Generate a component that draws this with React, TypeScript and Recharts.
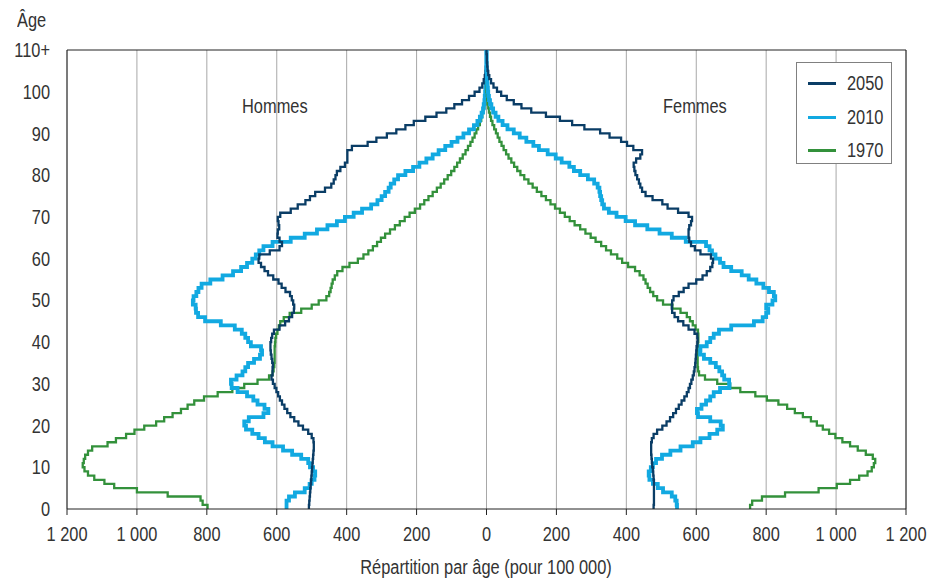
import React from 'react';
import { LineChart, Line, XAxis, YAxis, CartesianGrid, ReferenceLine } from 'recharts';

// age 0..110 (last one is "110+")
const ages: number[] = Array.from({ length: 111 }, (_, i) => i);

// per 100 000, men (drawn to the left) and women (to the right)
const men2050 = [
  508, 507, 506, 505, 504, 503, 502, 501, 500, 499,
  498, 497, 496, 495, 494, 494, 495, 500, 510, 525,
  538, 550, 561, 570, 578, 585, 591, 596, 601, 606,
  611, 615, 612, 612, 611, 613, 615, 617, 618, 618,
  616, 613, 608, 592, 576, 565, 556, 551, 550, 553,
  557, 562, 575, 586, 595, 610, 625, 635, 645, 652,
  650, 620, 592, 585, 592, 598, 597, 593, 595, 597,
  590, 560, 540, 518, 505, 490, 462, 444, 437, 432,
  428, 418, 405, 398, 398, 398, 385, 340, 315, 285,
  258, 232, 208, 175, 143, 115, 92, 70, 50, 34,
  20, 12, 8, 5, 3, 2, 1, 1, 0, 0, 0,
];
const women2050 = [
  478, 479, 479, 479, 479, 479, 479, 478, 477, 476,
  474, 473, 472, 471, 471, 471, 473, 478, 488, 503,
  515, 525, 534, 542, 550, 558, 566, 573, 578, 582,
  586, 590, 593, 595, 597, 598, 599, 600, 601, 603,
  604, 603, 595, 578, 563, 548, 538, 531, 530, 531,
  535, 550, 564, 578, 600, 618, 630, 640, 646, 648,
  642, 612, 596, 585, 580, 578, 578, 580, 585, 588,
  578, 548, 518, 503, 475, 455, 445, 440, 436, 431,
  426, 423, 421, 428, 440, 445, 420, 402, 385, 352,
  325, 280, 245, 210, 170, 128, 100, 78, 58, 42,
  30, 20, 13, 8, 5, 3, 2, 1, 1, 0, 0,
];
const men2010 = [
  572, 572, 565, 548, 520, 506, 500, 492, 490, 496,
  505, 510, 530, 556, 582, 612, 634, 652, 670, 688,
  693, 680, 638, 624, 635, 655, 667, 685, 712, 729,
  731, 715, 698, 690, 682, 665, 648, 642, 645, 674,
  682, 690, 700, 720, 760, 805, 825, 831, 832, 840,
  838, 830, 824, 815, 790, 755, 725, 702, 685, 670,
  660, 650, 638, 612, 560, 520, 485, 455, 428, 405,
  380, 356, 330, 312, 300, 290, 280, 274, 264, 253,
  232, 210, 192, 172, 154, 137, 118, 100, 83, 66,
  50, 36, 26, 19, 14, 10, 8, 6, 5, 4,
  3, 2, 1, 1, 0, 0, 0, 0, 0, 0, 0,
];
const women2010 = [
  545, 544, 540, 530, 505, 490, 476, 466, 464, 470,
  476, 485, 502, 526, 555, 590, 612, 638, 660, 676,
  670, 640, 605, 602, 615, 628, 640, 650, 668, 695,
  694, 680, 674, 666, 656, 640, 622, 611, 612, 630,
  640, 650, 665, 700, 765, 790, 800, 806, 800, 818,
  826, 822, 808, 792, 772, 750, 730, 700, 678, 668,
  655, 645, 638, 628, 570, 530, 495, 460, 425, 398,
  372, 350, 336, 331, 328, 325, 323, 318, 308, 290,
  268, 250, 237, 215, 198, 175, 150, 134, 114, 95,
  78, 60, 46, 34, 26, 19, 14, 10, 7, 5,
  4, 3, 2, 1, 1, 0, 0, 0, 0, 0, 0,
];
const men1970 = [
  798, 812, 818, 912, 1000, 1065, 1093, 1122, 1140, 1150,
  1155, 1152, 1148, 1140, 1128, 1084, 1060, 1031, 1007, 979,
  945, 922, 898, 874, 855, 836, 808, 769, 727, 693,
  655, 622, 612, 609, 607, 606, 606, 606, 606, 605,
  604, 602, 598, 594, 590, 580, 563, 530, 500, 480,
  458, 450, 446, 443, 440, 434, 427, 412, 392, 368,
  352, 338, 325, 313, 302, 290, 276, 262, 248, 234,
  220, 205, 190, 178, 166, 154, 142, 131, 121, 111,
  101, 92, 84, 76, 68, 60, 53, 46, 40, 34,
  29, 24, 19, 15, 12, 9, 6, 4, 3, 2,
  1, 0, 0, 0, 0, 0, 0, 0, 0, 0, 0,
];
const women1970 = [
  754, 760, 788, 854, 950, 1002, 1040, 1066, 1090, 1102,
  1108, 1112, 1105, 1085, 1062, 1040, 1018, 998, 980, 962,
  945, 928, 905, 882, 860, 835, 802, 769, 726, 697,
  660, 625, 608, 605, 604, 604, 604, 604, 604, 605,
  606, 606, 605, 598, 590, 582, 573, 555, 532, 505,
  488, 477, 468, 461, 455, 449, 438, 425, 405, 388,
  374, 356, 342, 328, 312, 298, 283, 268, 252, 238,
  224, 210, 196, 183, 170, 157, 144, 132, 120, 108,
  97, 88, 79, 71, 63, 56, 49, 43, 37, 32,
  27, 22, 17, 13, 10, 7, 5, 3, 2, 1,
  0, 0, 0, 0, 0, 0, 0, 0, 0, 0, 0,
];

const xTicks = [-1200, -1000, -800, -600, -400, -200, 0, 200, 400, 600, 800, 1000, 1200];
const yTicks = [0, 10, 20, 30, 40, 50, 60, 70, 80, 90, 100, 110];

const years = [
  { name: '2050', color: '#0a3d66', width: 2.3 },
  { name: '2010', color: '#12a9e1', width: 3.8 },
  { name: '1970', color: '#33913b', width: 2.3 },
];

const data = ages.map((age, i) => ({
  age,
  m2050: -men2050[i],
  f2050: women2050[i],
  m2010: -men2010[i],
  f2010: women2010[i],
  m1970: -men1970[i],
  f1970: women1970[i],
}));

// no condensed face installed: squeeze Liberation Sans horizontally
const font = '"Liberation Sans", Arial, sans-serif';
const SQ = 0.82;

const fmtX = (v: number) => {
  const a = Math.abs(v);
  return a >= 1000 ? `${Math.floor(a / 1000)} ${String(a % 1000).padStart(3, '0')}` : String(a);
};

const XTick = (props: any) => {
  const { x, y, payload } = props;
  return (
    <g transform={`translate(${x},${y})`}>
      <text transform={`scale(${SQ},1)`} textAnchor="middle" dy="0.71em" fill="#333" fontSize={20} fontFamily={font}>
        {fmtX(payload.value)}
      </text>
    </g>
  );
};

const YTick = (props: any) => {
  const { x, y, payload } = props;
  return (
    <g transform={`translate(${x},${y})`}>
      <text transform={`scale(${SQ},1)`} textAnchor="end" dy="0.355em" fill="#333" fontSize={20} fontFamily={font}>
        {payload.value === 110 ? '110+' : String(payload.value)}
      </text>
    </g>
  );
};

const label = (left: number, top: number): React.CSSProperties => ({
  position: 'absolute', left, top, fontSize: 20, lineHeight: '20px', color: '#333', whiteSpace: 'nowrap',
  transform: `scaleX(${SQ})`, transformOrigin: '0 0',
});

export default function App() {
  return (
    <div style={{ position: 'absolute', left: 0, top: 0, width: 941, height: 582, background: '#fff', fontFamily: font }}>
      <LineChart
        width={941}
        height={582}
        data={data}
        layout="vertical"
        margin={{ top: 50, right: 35, bottom: 43, left: 0 }}
      >
        <CartesianGrid horizontal={false} stroke="#a8a8a8" strokeWidth={1} />
        <XAxis
          type="number"
          dataKey="f2050"
          domain={[-1200, 1200]}
          ticks={xTicks}
          interval={0}
          height={30}
          tickSize={6}
          tickMargin={12}
          stroke="#222"
          tick={<XTick />}
          allowDataOverflow
        />
        <YAxis
          type="number"
          dataKey="age"
          domain={[0, 110]}
          ticks={yTicks}
          interval={0}
          reversed
          width={67}
          tickLine={false}
          tickSize={6}
          tickMargin={11}
          stroke="#222"
          tick={<YTick />}
        />
        <ReferenceLine y={110} stroke="#222" strokeWidth={1} />
        <ReferenceLine x={1200} stroke="#222" strokeWidth={1} />
        {[...years].reverse().map((y) => (
          <Line
            key={'m' + y.name}
            dataKey={'m' + y.name}
            type="stepBefore"
            stroke={y.color}
            strokeWidth={y.width}
            dot={false}
            isAnimationActive={false}
          />
        ))}
        {[...years].reverse().map((y) => (
          <Line
            key={'f' + y.name}
            dataKey={'f' + y.name}
            type="stepBefore"
            stroke={y.color}
            strokeWidth={y.width}
            dot={false}
            isAnimationActive={false}
          />
        ))}
      </LineChart>

      <div style={label(17, 10)}>Âge</div>
      <div style={label(242, 96)}>Hommes</div>
      <div style={label(663, 96)}>Femmes</div>
      <div style={{ ...label(486, 557), transform: `translateX(-50%) scaleX(${SQ})`, transformOrigin: '50% 0' }}>
        Répartition par âge (pour 100 000)
      </div>

      <div
        style={{
          position: 'absolute', left: 796, top: 62, width: 94, height: 100,
          border: '1px solid #808080', background: '#fff',
        }}
      >
        {years.map((y, i) => (
          <div key={y.name} style={{ position: 'absolute', left: 0, top: 10 + i * 33.5, height: 20, width: 94 }}>
            <div style={{ position: 'absolute', left: 11, top: 9, width: 28, height: 3, background: y.color }} />
            <div style={{ ...label(50, 0) }}>{y.name}</div>
          </div>
        ))}
      </div>
    </div>
  );
}
